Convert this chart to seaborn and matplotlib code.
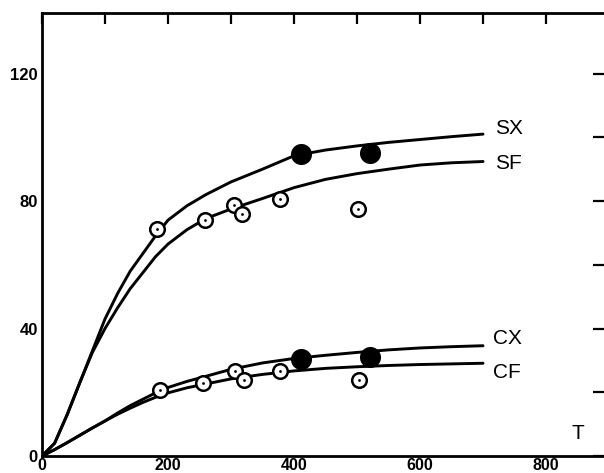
import matplotlib
matplotlib.use("Agg")
import matplotlib.pyplot as plt
from matplotlib.ticker import MultipleLocator
import seaborn as sns
import pandas as pd

# ---- data ----
curve_T = [0, 20, 40, 60, 80, 100, 120, 140, 160, 180, 200, 230, 260, 300,
           350, 400, 450, 500, 550, 600, 650, 700]
sx_curve = [0, 4, 13, 23, 33, 43, 51, 58, 63.5, 69, 74, 78.5, 82, 86,
            90, 94.2, 96, 97.3, 98.4, 99.3, 100.2, 101]
sf_curve = [0, 4, 13, 23, 32.5, 40, 46.5, 52.5, 57.5, 62.5, 66.5, 71, 74.5, 77.5,
            80.8, 84.2, 86.8, 88.6, 90, 91.3, 92, 92.4]
cx_curve = [0, 2, 4.2, 6.5, 8.8, 11, 13.5, 15.8, 17.8, 19.8, 21.5, 23.4, 25, 27.2,
            29.2, 30.6, 31.6, 32.5, 33.3, 33.9, 34.3, 34.6]
cf_curve = [0, 2, 4.2, 6.5, 8.8, 11, 13.1, 15.0, 16.8, 18.4, 19.8, 21.4, 22.6, 24.2,
            25.6, 26.7, 27.5, 28, 28.4, 28.7, 28.9, 29.1]

s_open_T = [183, 259, 305, 317, 377, 502]
s_open_v = [71.2, 74.2, 78.8, 75.8, 80.7, 77.6]
s_fill_T = [411, 521]
s_fill_v = [94.7, 95.1]

c_open_T = [188, 256, 307, 320, 378, 503]
c_open_v = [20.6, 23.0, 26.7, 23.8, 26.6, 24.0]
c_fill_T = [411, 521]
c_fill_v = [30.3, 31.0]

curve_names = ["SX", "SF", "CX", "CF"]
label_T = [719, 719, 716, 716]
label_v = [102.8, 91.9, 36.9, 26.3]

x_ticks = [0, 200, 400, 600, 800]
y_ticks = [0, 40, 80, 120]

# ---- figure ----
sns.set_theme(style="white")
plt.rcParams["font.family"] = ["Liberation Sans", "DejaVu Sans"]

fig = plt.figure(figsize=(6.04, 4.73), dpi=100)
ax = fig.add_axes([42 / 604, 17 / 473, 1 - 42 / 604, (456 - 13) / 473])

curves = pd.DataFrame({"T": curve_T * 4,
                       "v": sx_curve + sf_curve + cx_curve + cf_curve,
                       "name": sum([[n] * len(curve_T) for n in curve_names], [])})
sns.lineplot(data=curves, x="T", y="v", units="name", estimator=None,
             color="black", lw=2.1, ax=ax, sort=False)

open_df = pd.DataFrame({"T": s_open_T + c_open_T, "v": s_open_v + c_open_v})
fill_df = pd.DataFrame({"T": s_fill_T + c_fill_T, "v": s_fill_v + c_fill_v})

sns.scatterplot(data=open_df, x="T", y="v", s=110, facecolor="white",
                edgecolor="black", linewidth=1.8, ax=ax, zorder=5)
sns.scatterplot(data=open_df, x="T", y="v", s=4, color="black",
                linewidth=0, ax=ax, zorder=6)
sns.scatterplot(data=fill_df, x="T", y="v", s=230, color="black",
                linewidth=0, ax=ax, zorder=5)

for name, tx, ty in zip(curve_names, label_T, label_v):
    ax.text(tx, ty, name, fontsize=15, va="center", ha="left", color="black")
ax.text(851, 7.2, "T", fontsize=15, va="center", ha="center", color="black")

ax.set_xlim(0, 892)
ax.set_ylim(0, 139)
ax.set_xticks(x_ticks)
ax.set_yticks(y_ticks)
ax.xaxis.set_minor_locator(MultipleLocator(100))
ax.yaxis.set_minor_locator(MultipleLocator(20))
ax.tick_params(which="both", direction="in", top=True, right=True,
               length=8, width=1.6, color="black")
ax.tick_params(which="major", labelsize=12, pad=3, labelcolor="black")
ax.tick_params(axis="x", which="major", labelsize=11.5, pad=1.5)
for lab in ax.get_xticklabels() + ax.get_yticklabels():
    lab.set_fontweight("bold")
ax.set_xlabel("")
ax.set_ylabel("")
for side in ["left", "bottom", "top"]:
    ax.spines[side].set_linewidth(2.0)
    ax.spines[side].set_color("black")
ax.spines["right"].set_visible(False)

fig.savefig("out.png", dpi=100)
